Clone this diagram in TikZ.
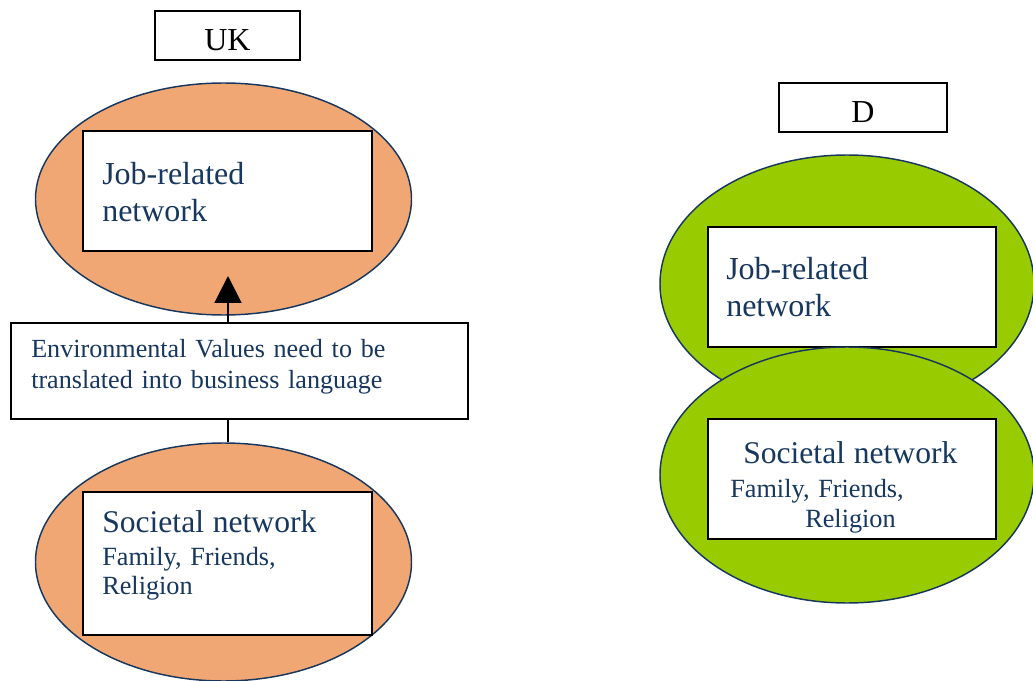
\documentclass[tikz,border=0pt]{standalone}
\usepackage{fontspec}
\setmainfont{Liberation Serif}
\usepackage{tikz}
\usetikzlibrary{shapes.geometric,positioning,calc}
\usetikzlibrary{arrows.meta}

\definecolor{navy}{RGB}{23,55,94}
\definecolor{peach}{RGB}{240,167,116}
\definecolor{lime}{RGB}{153,204,0}

\begin{document}
\begin{tikzpicture}[x=0.75pt,y=-0.75pt,
	net/.style={ellipse,draw=navy,line width=1.1pt,inner sep=0pt,minimum width=282pt},
	box/.style={draw=black,fill=white,line width=1.5pt,inner sep=0pt},
	tag/.style={box,font=\fontsize{24}{28}\selectfont,text height=23pt,text depth=0pt,minimum height=36.75pt},
	txt/.style={inner sep=0pt,anchor=base west,align=left,text=navy,text width=210pt,font=\fontsize{24}{27.75}\selectfont},
	small/.style={txt,font=\fontsize{19.6}{23.25}\selectfont,text width=330pt},
	members/.style={txt,font=\fontsize{19.7}{22.5}\selectfont}]
	\useasboundingbox (0,0) rectangle (1033,681);

	% UK side
	\node[tag,minimum width=108.75pt] (uk) at (227.5,35.5) {UK};
	\node[net,fill=peach,minimum height=174pt] (ukjob) at (223.5,199) {};
	\node[box,minimum width=216.75pt,minimum height=90pt] (ukjobbox) at (227.5,191) {};
	\node[txt] (ukjobtxt) at ($(ukjobbox.north west)+(20,55)$) {Job-related\\network};
	\node[box,minimum width=342.75pt,minimum height=72pt] (env) at (239.5,371) {};
	\node[small] (envtxt) at ($(env.north west)+(21,36)$)
		{Environmental Values need to be\\translated into business language};
	\node[net,fill=peach,minimum height=178.5pt] (ukfam) at (223.5,562) {};
	\node[box,minimum width=216.75pt,minimum height=107.25pt] (ukfambox) at (227.5,563.5) {};
	\node[members] (ukfamtxt) at ($(ukfambox.north west)+(20,41)$)
		{{\fontsize{23.7}{22.5}\selectfont Societal network}\\[2.25pt]Family, Friends,\\Religion};
	\coordinate (tip) at (228,276);
	\draw[-{Triangle[length=20.25pt,width=20.25pt]},line width=1.5pt] (env.north -| tip) -- (tip);
	\draw[line width=1.5pt] (env.south -| tip) -- (ukfam.north -| tip);

	% D side
	\node[tag,minimum width=126pt] (d) at (863,107.5) {D};
	\node[net,fill=lime,minimum width=280.5pt,minimum height=193.5pt] (dejob) at (847,284) {};
	\node[box,minimum width=216pt,minimum height=90pt] (dejobbox) at (852,287) {};
	\node[txt] (dejobtxt) at ($(dejobbox.north west)+(19,54)$) {Job-related\\network};
	\node[net,fill=lime,minimum width=280.5pt,minimum height=192pt] (defam) at (847,475) {};
	\node[box,minimum width=216pt,minimum height=90pt] (defambox) at (852,479) {};
	\node[members] (defamtxt) at ($(defambox.north west)+(23,45)$)
		{\hspace*{9.75pt}{\fontsize{23.7}{22.5}\selectfont Societal network}\\[3pt]Family, Friends,\\\hspace*{56.25pt}Religion};
\end{tikzpicture}
\end{document}
